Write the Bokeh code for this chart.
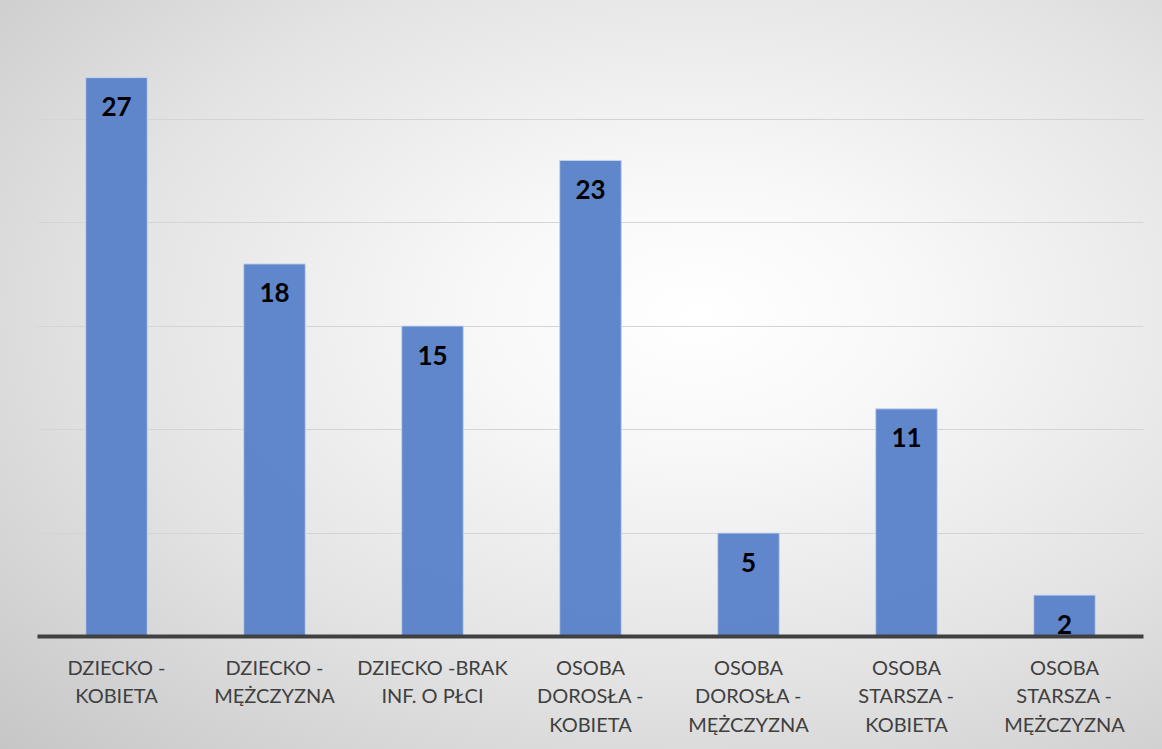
from bokeh.plotting import figure
from bokeh.models import FixedTicker
from bokeh.core.properties import value
from bokeh.embed import file_html
from bokeh.resources import INLINE

categories = [
    "DZIECKO -\nKOBIETA",
    "DZIECKO -\nMĘŻCZYZNA",
    "DZIECKO -BRAK\nINF. O PŁCI",
    "OSOBA\nDOROSŁA -\nKOBIETA",
    "OSOBA\nDOROSŁA -\nMĘŻCZYZNA",
    "OSOBA\nSTARSZA -\nKOBIETA",
    "OSOBA\nSTARSZA -\nMĘŻCZYZNA",
]
values = [27, 18, 15, 23, 5, 11, 2]
labels = [str(v) for v in values]
y_ticks = [0, 5, 10, 15, 20, 25, 30]

p = figure(
    x_range=categories,
    y_range=(0, 30),
    width=1162,
    height=749,
    output_backend="svg",
    toolbar_location=None,
    min_border_left=37,
    min_border_right=19,
    min_border_top=15,
    min_border_bottom=113,
)
p.styles = {
    "background": "radial-gradient(ellipse farthest-corner at 60% 42%, #ffffff 0%, #f8f8f8 22%, #e3e3e3 60%, #c6c6c6 100%)"
}
p.border_fill_color = None
p.background_fill_color = None
p.outline_line_color = None

p.vbar(x=categories, top=values, width=0.39, bottom=0,
       fill_color="#5a82ca", fill_alpha=0.96, line_color="#c8d4ee", line_width=1)

p.text(x=categories, y=values, text=labels, text_align="center",
       text_baseline="middle", y_offset=29,
       text_font=value("Lato"), text_font_style="bold",
       text_font_size="26px", text_color="#000000")

p.yaxis.visible = False
p.yaxis.ticker = FixedTicker(ticks=y_ticks)
p.ygrid.grid_line_color = "#d4d4d4"
p.ygrid.grid_line_width = 1
p.xgrid.grid_line_color = None

ax = p.xaxis[0]
ax.axis_line_color = "#404040"
ax.axis_line_width = 4
ax.major_tick_line_color = None
ax.minor_tick_line_color = None
ax.major_label_text_font = "Lato"
ax.major_label_text_font_size = "20px"
ax.major_label_text_color = "#404040"
ax.major_label_standoff = 12
ax.major_label_orientation = "horizontal"

open("out.html", "w").write(file_html(p, INLINE))
